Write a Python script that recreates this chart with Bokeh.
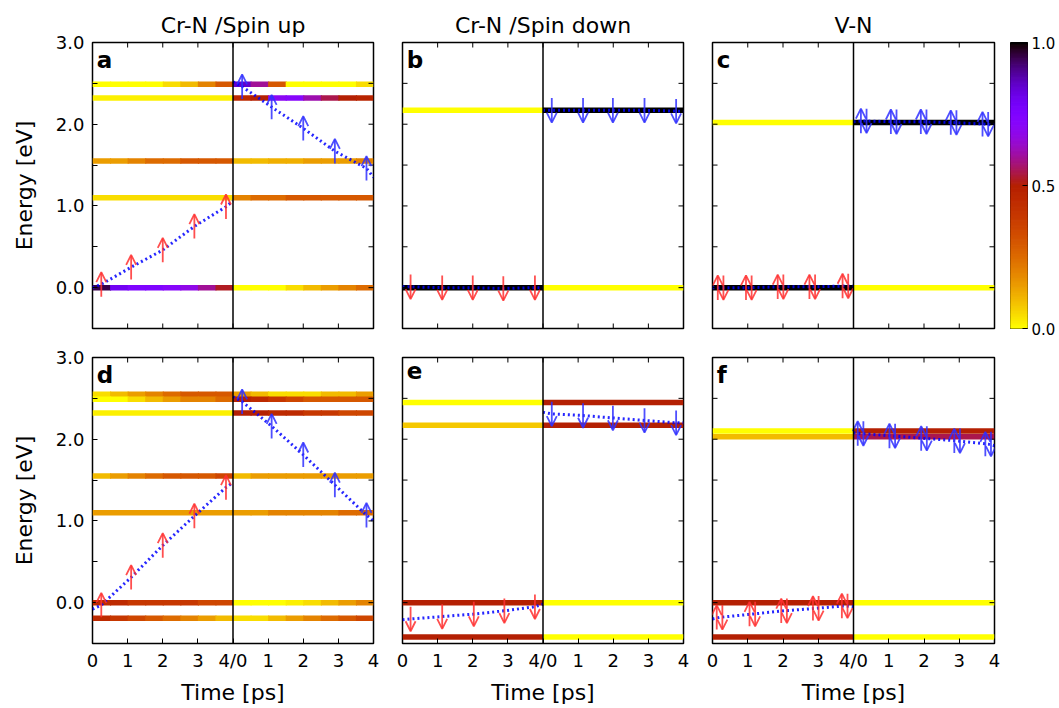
import numpy as np
from bokeh.plotting import figure
from bokeh.models import (Range1d, FixedTicker, LinearAxis, Span, Label, Arrow,
                          OpenHead, ColumnDataSource)
from bokeh.transform import linear_cmap
from bokeh.layouts import column, row
from bokeh.embed import file_html
from bokeh.resources import INLINE

# ---------------- data ----------------
x_ticks = [0, 1, 2, 3, 4, 5, 6, 7, 8]
x_tick_labels = ["0", "1", "2", "3", "4/0", "1", "2", "3", "4"]
y_ticks = [-0.5, 0.0, 0.5, 1.0, 1.5, 2.0, 2.5, 3.0]
y_tick_labels = ["", "0.0", "", "1.0", "", "2.0", "", "3.0"]
cb_ticks = [0.0, 0.5, 1.0]
cb_tick_labels = ["0.0", "0.5", "1.0"]
column_titles = ["Cr-N /Spin up", "Cr-N /Spin down", "V-N"]
panel_letters = ["a", "b", "c", "d", "e", "f"]
arrow_kinds = ["up", "down", "both", "up", "down", "both"]

# level energies [eV] and weights (left half 0-4 ps, right half 0-4 ps)
a_E = [2.49, 2.32, 1.55, 1.10, 0.0]
a_wL = [[0, 0, 0, 0, 0.05, 0.1, 0.2, 0.3], [0.02],
        [0.15, 0.15, 0.2, 0.25, 0.25, 0.3, 0.3, 0.3], [0.05],
        [0.95, 0.8, 0.75, 0.75, 0.72, 0.68, 0.6, 0.52]]
a_wR = [[0.85, 0.6, 0.3, 0, 0, 0, 0, 0.05],
        [0.45, 0.5, 0.7, 0.72, 0.62, 0.55, 0.5, 0.48],
        [0.1, 0.1, 0.12, 0.12, 0.15, 0.15, 0.15, 0.2],
        [0.2, 0.25, 0.25, 0.3, 0.3, 0.3, 0.3, 0.3],
        [0, 0, 0, 0.05, 0.1, 0.15, 0.2, 0.25]]
a_btL = [0, 0.25, 1.1, 2.0, 2.9, 3.8, 4.0]
a_bEL = [0.0, 0.04, 0.25, 0.46, 0.75, 0.99, 1.06]
a_btR = [4.0, 4.26, 5.1, 6.0, 6.9, 7.8, 8.0]
a_bER = [2.52, 2.46, 2.21, 1.95, 1.67, 1.46, 1.35]

b_E = [2.17, 0.0]
b_wL = [[0.0], [1.0]]
b_wR = [[1.0], [0.0]]
b_btL = [0, 0.23, 1.13, 2.0, 2.87, 3.77, 4.0]
b_bEL = [0.01, 0.01, 0.0, 0.0, -0.01, 0.0, 0.0]
b_btR = [4.0, 4.25, 5.14, 5.99, 6.89, 7.79, 8.0]
b_bER = [2.17, 2.17, 2.17, 2.17, 2.17, 2.16, 2.16]

c_E = [2.02, 0.0]
c_wL = [[0.0], [1.0]]
c_wR = [[1.0], [0.0]]
c_btL = [0, 0.23, 1.03, 1.93, 2.83, 3.77, 4.0]
c_bEL = [0.0, 0.0, 0.0, 0.01, 0.01, 0.02, 0.02]
c_btR = [4.0, 4.29, 5.14, 5.99, 6.84, 7.74, 8.0]
c_bER = [2.03, 2.04, 2.03, 2.03, 2.02, 2.0, 1.99]

d_E = [2.55, 2.49, 2.32, 1.55, 1.10, 0.0, -0.19]
d_wL = [[0.05, 0.1, 0.15, 0.2, 0.25, 0.3, 0.3, 0.3],
        [0, 0, 0.05, 0.1, 0.15, 0.2, 0.2, 0.25],
        [0.02],
        [0.1, 0.15, 0.2, 0.25, 0.3, 0.3, 0.3, 0.35],
        [0.15],
        [0.45, 0.45, 0.4, 0.4, 0.4, 0.4, 0.35, 0.35],
        [0.45, 0.4, 0.35, 0.3, 0.25, 0.2, 0.15, 0.1]]
d_wR = [[0.15, 0.1, 0.05, 0.05, 0.05, 0.1, 0.1, 0.15],
        [0.5, 0.45, 0.4, 0.35, 0.3, 0.3, 0.3, 0.3],
        [0.5, 0.5, 0.45, 0.45, 0.4, 0.4, 0.35, 0.35],
        [0.1, 0.15, 0.15, 0.15, 0.15, 0.15, 0.15, 0.15],
        [0.15, 0.15, 0.2, 0.2, 0.2, 0.2, 0.25, 0.25],
        [0, 0, 0, 0.02, 0.05, 0.1, 0.15, 0.2],
        [0.05, 0.05, 0.1, 0.15, 0.2, 0.25, 0.3, 0.35]]
d_btL = [0, 0.25, 1.1, 2.0, 2.9, 3.8, 4.0]
d_bEL = [-0.08, -0.03, 0.31, 0.70, 1.06, 1.41, 1.47]
d_btR = [4.0, 4.26, 5.1, 6.0, 6.9, 7.8, 8.0]
d_bER = [2.52, 2.46, 2.16, 1.81, 1.44, 1.07, 1.0]

e_E = [2.45, 2.17, 0.0, -0.42]
e_wL = [[0.0], [0.08], [0.5], [0.5]]
e_wR = [[0.5], [0.5], [0.0], [0.0]]
e_btL = [0, 0.23, 1.13, 2.03, 2.9, 3.77, 4.0]
e_bEL = [-0.21, -0.2, -0.17, -0.14, -0.1, -0.05, -0.02]
e_btR = [4.0, 4.25, 5.14, 5.99, 6.89, 7.79, 8.0]
e_bER = [2.33, 2.31, 2.29, 2.26, 2.23, 2.2, 2.2]

f_E = [2.10, 2.03, 0.0, -0.42]
f_wL = [[0.0], [0.1], [0.5], [0.5]]
f_wR = [[0.5], [0.55], [0.0], [0.0]]
f_btL = [0, 0.2, 1.13, 2.03, 2.93, 3.75, 4.0]
f_bEL = [-0.2, -0.18, -0.14, -0.1, -0.07, -0.04, -0.05]
f_btR = [4.0, 4.2, 5.1, 6.0, 6.94, 7.82, 8.0]
f_bER = [2.08, 2.07, 2.04, 2.01, 1.98, 1.94, 1.92]

# ---------------- style ----------------
FONT = "DejaVu Sans"
TICK_FS = "18px"
LABEL_FS = "22px"


def gnuplot_r_hex(v):
    x = 1.0 - v
    r = np.sqrt(x)
    g = x ** 3
    b = min(1.0, max(0.0, np.sin(2 * np.pi * x)))
    return "#%02x%02x%02x" % (int(round(r * 255)), int(round(g * 255)), int(round(b * 255)))


PALETTE = [gnuplot_r_hex(v) for v in np.linspace(0, 1, 256)]


def add_axis(p, place, ticks, labels, axis_label=None, fs=TICK_FS, standoff=6,
             label_standoff=5):
    ax = LinearAxis(ticker=FixedTicker(ticks=ticks, minor_ticks=[]))
    ax.axis_line_color = None
    ax.major_tick_in = 5
    ax.major_tick_out = 0
    ax.minor_tick_in = 0
    ax.minor_tick_out = 0
    ax.major_tick_line_color = "black"
    ax.major_tick_line_width = 1
    ax.major_label_overrides = {t: l for t, l in zip(ticks, labels)}
    ax.major_label_text_font = FONT
    ax.major_label_text_font_size = fs
    ax.major_label_text_color = "black"
    ax.major_label_standoff = standoff
    if axis_label:
        ax.axis_label = axis_label
        ax.axis_label_text_font = FONT
        ax.axis_label_text_font_size = LABEL_FS
        ax.axis_label_text_font_style = "normal"
        ax.axis_label_text_color = "black"
        ax.axis_label_standoff = label_standoff
    p.add_layout(ax, place)
    return ax


borders_lr = [(92, 281, 14), (15, 281, 14), (15, 282, 8)]
borders_tb = [(42, 14), (15, 60)]

panels_data = [
    (a_E, a_wL, a_wR, a_btL, a_bEL, a_btR, a_bER),
    (b_E, b_wL, b_wR, b_btL, b_bEL, b_btR, b_bER),
    (c_E, c_wL, c_wR, c_btL, c_bEL, c_btR, c_bER),
    (d_E, d_wL, d_wR, d_btL, d_bEL, d_btR, d_bER),
    (e_E, e_wL, e_wR, e_btL, e_bEL, e_btR, e_bER),
    (f_E, f_wL, f_wR, f_btL, f_bEL, f_btR, f_bER),
]

H = 0.15     # arrow half length [eV]
DX = 0.08    # offset of the paired arrows [ps]
OVL = 0.03   # small overlap between colour segments [ps]


def tick_marks(p, left=True, bottom=True):
    """Inward tick marks (no labels) drawn as dash markers clipped by the frame."""
    xt = x_ticks[1:-1]
    yt = y_ticks[1:-1]
    p.scatter(xt, [y_ticks[-1]] * len(xt), marker="dash", size=10,
              angle=np.pi / 2, line_color="black", line_width=1)
    if bottom:
        p.scatter(xt, [y_ticks[0]] * len(xt), marker="dash", size=10,
                  angle=np.pi / 2, line_color="black", line_width=1)
    p.scatter([x_ticks[-1]] * len(yt), yt, marker="dash", size=10,
              line_color="black", line_width=1)
    if left:
        p.scatter([x_ticks[0]] * len(yt), yt, marker="dash", size=10,
                  line_color="black", line_width=1)


def make_panel(i):
    r, c = divmod(i, 3)
    L, fw, R = borders_lr[c]
    T, B = borders_tb[r]
    E, wL, wR, btL, bEL, btR, bER = panels_data[i]
    kw = dict(title=column_titles[c]) if r == 0 else dict(title=None)
    p = figure(x_range=Range1d(0, 8), y_range=Range1d(-0.5, 3.0),
               frame_width=fw, frame_height=286,
               min_border_left=L, min_border_right=R,
               min_border_top=T, min_border_bottom=B,
               x_axis_type=None, y_axis_type=None,
               toolbar_location=None, output_backend="svg", **kw)
    p.background_fill_color = "white"
    p.border_fill_color = "white"
    p.outline_line_color = "black"
    p.outline_line_width = 1.5
    p.outline_line_alpha = 1.0
    if r == 0:
        p.title.align = "center"
        p.title.text_font = FONT
        p.title.text_font_size = LABEL_FS
        p.title.text_font_style = "normal"
        p.title.text_color = "black"
        p.title.standoff = 9

    # level lines, coloured by weight
    x0, x1, yy, ww = [], [], [], []
    for k, e in enumerate(E):
        for t0, w in ((0.0, wL[k]), (4.0, wR[k])):
            n = len(w)
            for j, wj in enumerate(w):
                x0.append(t0 + 4.0 * j / n)
                x1.append(t0 + 4.0 * (j + 1) / n + (OVL if j < n - 1 else 0.0))
                yy.append(e)
                ww.append(wj)
    src = ColumnDataSource(dict(x0=x0, x1=x1, y=yy, w=ww))
    p.segment(x0="x0", y0="y", x1="x1", y1="y", source=src, line_width=5.5,
              line_cap="butt", line_color=linear_cmap("w", PALETTE, 0, 1))

    # dotted blue defect-state lines
    for bt, bE in ((btL, bEL), (btR, bER)):
        p.line(bt, bE, line_color="#0000ff", line_width=3, line_dash="2 3",
               line_alpha=0.85)

    # spin arrows at interior points
    kind = arrow_kinds[i]
    for bt, bE, col in ((btL, bEL, "#ff3030"), (btR, bER, "#3030ff")):
        ts, es = bt[1:-1], bE[1:-1]
        xs, ys, xe, ye = [], [], [], []
        for t, e in zip(ts, es):
            if kind == "up":
                xs.append(t); xe.append(t); ys.append(e - H); ye.append(e + H)
            elif kind == "down":
                xs.append(t); xe.append(t); ys.append(e + H); ye.append(e - H)
            else:
                xs.append(t - DX); xe.append(t - DX); ys.append(e - H); ye.append(e + H)
                xs.append(t + DX); xe.append(t + DX); ys.append(e + H); ye.append(e - H)
        asrc = ColumnDataSource(dict(xs=xs, ys=ys, xe=xe, ye=ye))
        p.add_layout(Arrow(end=OpenHead(size=10, line_color=col, line_width=1.8,
                                        line_alpha=0.85),
                           x_start="xs", y_start="ys", x_end="xe", y_end="ye",
                           source=asrc, line_color=col, line_width=1.8,
                           line_alpha=0.85))

    p.add_layout(Span(location=4, dimension="height", line_color="black",
                      line_width=1.5))
    p.add_layout(Label(x=0.12, y=2.95, text=panel_letters[i], text_font=FONT,
                       text_font_size="23px", text_font_style="bold",
                       text_baseline="top", text_color="black"))

    # axes / ticks
    if c == 0:
        add_axis(p, "left", y_ticks, y_tick_labels, "Energy [eV]", standoff=8,
                 label_standoff=16)
    if r == 1:
        add_axis(p, "below", x_ticks, x_tick_labels, "Time [ps]", standoff=6,
                 label_standoff=6)
    tick_marks(p, left=(c != 0), bottom=(r != 1))
    return p


figs = [make_panel(i) for i in range(6)]

# colour bar
cb = figure(x_range=Range1d(0, 1), y_range=Range1d(0, 1),
            frame_width=17, frame_height=286,
            min_border_left=8, min_border_right=30,
            min_border_top=42, min_border_bottom=14,
            x_axis_type=None, y_axis_type=None,
            toolbar_location=None, output_backend="svg", title=None)
cb.outline_line_color = "black"
cb.outline_line_width = 1
n = len(PALETTE)
cb.quad(left=0, right=1, bottom=[k / n for k in range(n)],
        top=[(k + 1) / n for k in range(n)], fill_color=PALETTE,
        line_color=PALETTE, line_width=1)
add_axis(cb, "right", cb_ticks, cb_tick_labels, fs="15px", standoff=4)

layout = column(row(figs[0], figs[1], figs[2], cb), row(figs[3], figs[4], figs[5]))

open("out.html", "w").write(file_html(layout, INLINE))
